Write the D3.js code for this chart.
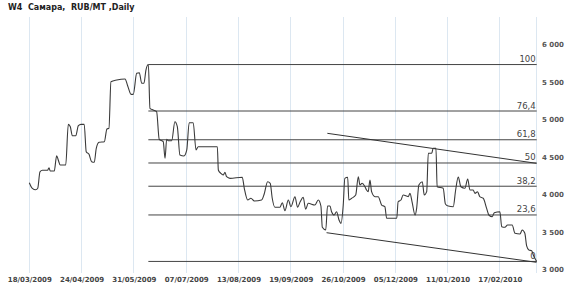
<!DOCTYPE html>
<html>
<head>
<meta charset="utf-8">
<script src="https://cdn.jsdelivr.net/npm/d3@7"></script>
<style>
  html, body { margin: 0; padding: 0; background: #fff; }
  svg { display: block; }
</style>
</head>
<body>
<svg id="chart" width="570" height="287"></svg>
<script>
// ---- data ----
const title = "W4  Самара,  RUB/MT ,Daily";
const tickLabels = ["18/03/2009","24/04/2009","31/05/2009","07/07/2009","13/08/2009","19/09/2009","26/10/2009","05/12/2009","11/01/2010","17/02/2010"];
const tickStep = 26; // trading days between date labels
const yTicks = [3000, 3500, 4000, 4500, 5000, 5500, 6000];

const dayIdx = [0,1.5,3.2,4.2,5.3,6.5,9.1,9.8,10.4,12.4,13.6,14.4,15.4,18.1,19.4,20.4,21.4,23.1,24.4,25.7,27.3,28.3,29.7,31.0,32.3,33.3,34.7,37.3,38.6,39.6,40.6,43.5,47.6,48.9,50.6,51.7,53.4,54.7,55.9,57.0,58.0,59.2,60.0,61.6,63.3,64.6,66.6,67.5,68.3,69.1,70.8,72.4,73.6,74.9,76.9,78.3,79.5,81.5,82.9,84.0,93.5,94.0,95.2,96.4,97.3,98.1,99.8,105.9,106.9,108.6,110.2,111.9,115.5,116.8,118.5,119.8,120.8,122.1,124.6,125.8,127.1,128.8,130.1,132.1,133.4,134.7,136.2,137.4,138.7,142.0,143.7,145.0,145.7,147.4,148.3,149.5,150.3,151.6,152.8,154.0,155.0,156.1,156.9,158.3,158.9,160.3,162.3,163.6,164.4,165.5,166.9,167.7,168.5,169.4,170.2,171.9,173.5,175.2,176.8,177.7,182.7,183.4,184.8,185.9,187.6,188.4,189.3,190.4,191.8,192.6,193.7,195.4,196.4,197.6,198.4,200.1,200.8,202.2,202.8,205.8,206.9,208.3,210.8,212.0,213.3,214.6,216.6,218.0,219.1,220.7,221.6,222.9,224.0,225.7,227.4,228.5,230.2,231.2,234.0,234.9,236.5,237.8,240.1,241.5,244.0,245.1,246.4,247.3,248.4,249.8,250.6,252.3];
const price = [4155,4080,4060,4080,4300,4320,4320,4355,4310,4310,4515,4457,4390,4390,4933,4900,4780,4780,4915,4933,4933,4568,4533,4435,4427,4613,4693,4701,4871,4880,5501,5524,5537,5448,5333,5333,5613,5621,5480,5480,5657,5730,5147,5124,5101,4733,4701,4480,4733,4715,4715,4968,4901,4524,4511,4591,4955,4955,4591,4635,4635,4324,4280,4257,4293,4235,4213,4227,4080,3924,3947,3911,3924,4004,4168,4147,3947,3827,3827,3888,3781,3924,3835,3968,3827,3901,3960,3800,3880,3857,3924,3844,3560,3524,3844,3844,3768,3724,3768,3657,3613,3857,4213,4227,3924,3947,3991,4235,4124,4147,4101,4057,4035,4191,4035,3968,3968,3857,3835,3680,3680,3901,3924,3991,3977,3968,4013,3888,3724,3813,4124,4168,3991,4035,4547,4547,4613,4613,4101,4080,3871,3844,3835,4057,4231,4101,4080,4204,4057,4057,4013,4035,3968,3947,3813,3724,3701,3755,3768,3568,3560,3591,3591,3480,3471,3524,3480,3311,3257,3248,3191,3105];

const fibLevels = [0, 23.6, 38.2, 50, 61.8, 76.4, 100];
const fibLabels = ["0", "23,6", "38,2", "50", "61,8", "76,4", "100"];
const fibLow = 3105, fibHigh = 5730, fibStartIdx = 59.2, fibEndIdx = 252.3;

const trendUpper = [[148.2, 4813], [252.2, 4413]];
const trendLower = [[147.8, 3488], [252.2, 3093]];

// ---- layout ----
const svg = d3.select("#chart");
const plotTop = 17, plotBottom = 273, plotLeft = 29.3, plotRight = 536.7;

const x = d3.scaleLinear().domain([0, 252.3]).range([plotLeft, plotRight]);
const y = d3.scaleLinear().domain([3000, 6000]).range([269.3, 44.3]);

const grid = "#dce7f1";
const ink = "#3a3a3a";

// vertical grid lines
svg.append("g").selectAll("line")
  .data(tickLabels.map((d, i) => i * tickStep))
  .join("line")
  .attr("x1", d => x(d)).attr("x2", d => x(d))
  .attr("y1", plotTop).attr("y2", plotBottom)
  .attr("stroke", grid).attr("stroke-width", 1).attr("shape-rendering", "crispEdges");
svg.append("line")
  .attr("x1", plotRight).attr("x2", plotRight)
  .attr("y1", plotTop).attr("y2", plotBottom)
  .attr("stroke", grid).attr("shape-rendering", "crispEdges");

// x labels
const xAxis = d3.axisBottom(x)
  .tickValues(tickLabels.map((d, i) => i * tickStep))
  .tickFormat((d, i) => tickLabels[i])
  .tickSize(0).tickPadding(0);
const gx = svg.append("g").attr("transform", "translate(0,277)").call(xAxis);
gx.select(".domain").remove();
gx.selectAll("text")
  .attr("font-family", "DejaVu Sans").attr("font-weight", "bold")
  .attr("font-size", 7).attr("fill", "#444").attr("dy", "0.71em");

// y labels (right)
const yAxis = d3.axisRight(y).tickValues(yTicks)
  .tickFormat(d => d3.format(",")(d).replace(/,/g, " "))
  .tickSize(0).tickPadding(0);
const gy = svg.append("g").attr("transform", "translate(542,0)").call(yAxis);
gy.select(".domain").remove();
gy.selectAll("text")
  .attr("font-family", "DejaVu Sans").attr("font-weight", "bold")
  .attr("font-size", 7).attr("fill", "#555");

// fib levels
const fibVal = p => fibLow + (fibHigh - fibLow) * p / 100;
const fg = svg.append("g");
fg.selectAll("line").data(fibLevels).join("line")
  .attr("x1", x(fibStartIdx)).attr("x2", x(fibEndIdx))
  .attr("y1", d => y(fibVal(d))).attr("y2", d => y(fibVal(d)))
  .attr("stroke", "#444").attr("stroke-width", 1);
fg.selectAll("text").data(fibLevels).join("text")
  .attr("x", x(fibEndIdx) - 1).attr("y", d => y(fibVal(d)) - 2.5)
  .attr("text-anchor", "end")
  .attr("font-family", "DejaVu Sans").attr("font-size", 8.5).attr("fill", "#444")
  .text((d, i) => fibLabels[i]);

// trend lines
const tl = d3.line().x(d => x(d[0])).y(d => y(d[1]));
[trendUpper, trendLower].forEach(t => {
  svg.append("path").attr("d", tl(t)).attr("fill", "none")
    .attr("stroke", "#333").attr("stroke-width", 1);
});

// price series
const series = dayIdx.map((d, i) => [d, price[i]]);
const line = d3.line().x(d => x(d[0])).y(d => y(d[1])).curve(d3.curveMonotoneX);
svg.append("path").attr("d", line(series)).attr("fill", "none")
  .attr("stroke", ink).attr("stroke-width", 1.1).attr("stroke-linejoin", "round");

// title
svg.append("text").attr("x", 8).attr("y", 10)
  .style("white-space", "pre")
  .attr("font-family", "DejaVu Sans").attr("font-weight", "bold")
  .attr("font-size", 8).attr("fill", "#222")
  .text(title);
</script>
</body>
</html>
